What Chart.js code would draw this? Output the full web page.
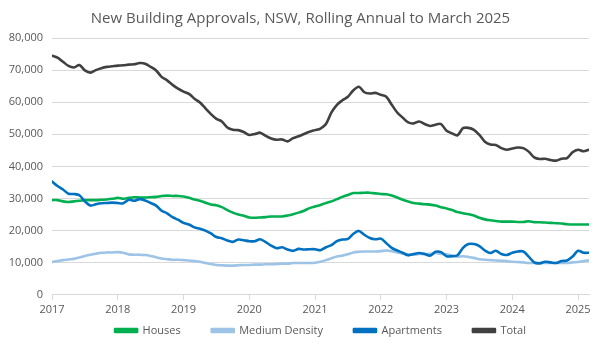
<!DOCTYPE html>
<html>
<head>
<meta charset="utf-8">
<script src="https://cdn.jsdelivr.net/npm/chart.js@4.4.1/dist/chart.umd.min.js"></script>
<style>
  html, body { margin: 0; padding: 0; background: #fff; }
  #wrap { width: 601px; height: 348px; }
</style>
</head>
<body>
<div id="wrap"><canvas id="myChart" width="601" height="348"></canvas></div>
<script>
// rolling annual totals, one value per month from Jan 2017 to Mar 2025
const firstYear = 2017;
const yearLabels = ["2017", "2018", "2019", "2020", "2021", "2022", "2023", "2024", "2025"];

const houses = [
  29500, 29500, 29100, 28900, 29100, 29300, 29500, 29500, 29500, 29600, 29700, 29900,
  30200, 29900, 30200, 30400, 30300, 30300, 30400, 30500, 30800, 30900, 30800, 30800,
  30600, 30200, 29700, 29300, 28700, 28100, 27900, 27300, 26400, 25600, 25000, 24600,
  24100, 24000, 24100, 24200, 24400, 24400, 24400, 24700, 25100, 25600, 26200, 27000,
  27500, 28000, 28600, 29100, 29800, 30500, 31100, 31700, 31700, 31800, 31800, 31600,
  31400, 31300, 30900, 30300, 29600, 29100, 28600, 28400, 28200, 28100, 27800, 27300,
  26900, 26400, 25800, 25400, 25100, 24700, 24000, 23500, 23200, 23000, 22800, 22800,
  22800, 22700, 22700, 22900, 22600, 22600, 22500, 22400, 22300, 22200, 22000, 21900,
  21900, 21900, 21900
];

const mediumDensity = [
  10200, 10500, 10800, 11000, 11200, 11600, 12100, 12500, 12800, 13100, 13200, 13200,
  13300, 13100, 12600, 12500, 12500, 12400, 12100, 11700, 11300, 11100, 10900, 10900,
  10800, 10700, 10500, 10300, 9900, 9600, 9300, 9200, 9100, 9100, 9200, 9300,
  9300, 9400, 9400, 9500, 9500, 9600, 9700, 9700, 9900, 9900, 9900, 9900,
  10000, 10300, 10800, 11400, 11900, 12200, 12600, 13200, 13400, 13500, 13500, 13500,
  13600, 13800, 13600, 13200, 12800, 12600, 12500, 12700, 12700, 12800, 13000, 12700,
  12600, 12200, 11900, 12000, 11800, 11500, 11100, 10900, 10800, 10700, 10600, 10500,
  10300, 10200, 10100, 9900, 9900, 9900, 9900, 9900, 9900, 9900, 9900, 10100,
  10200, 10500, 10700
];

const apartments = [
  35300, 33900, 32800, 31500, 31400, 31000, 29100, 27800, 28200, 28500, 28600, 28700,
  28600, 28500, 29600, 29300, 29800, 29400, 28600, 27800, 26200, 25400, 24200, 23400,
  22400, 21900, 21000, 20600, 20000, 19100, 18000, 17600, 16900, 16500, 17200, 17000,
  16700, 16700, 17300, 16400, 15300, 14500, 14800, 14100, 13700, 14300, 14100, 14200,
  14200, 13900, 14800, 15500, 16700, 17200, 17400, 19000, 19900, 18700, 17700, 17300,
  17500, 16100, 14600, 13800, 13100, 12300, 12700, 13000, 12700, 12200, 13400, 13300,
  12000, 12000, 12300, 14600, 15800, 15800, 15200, 13800, 13000, 13700, 12700, 12400,
  13100, 13500, 13500, 11900, 10100, 9800, 10300, 10100, 9900, 10500, 10700, 11900,
  13700, 13100, 13100
];

const total = [
  74500, 73900, 72600, 71300, 70800, 71600, 69900, 69200, 70000, 70600, 71000, 71200,
  71400, 71500, 71700, 71800, 72200, 72000, 71000, 69900, 67900, 66800, 65400, 64200,
  63300, 62600, 61100, 59900, 58100, 56300, 54800, 54000, 52100, 51400, 51300, 50700,
  49800, 50100, 50500, 49500, 48700, 48300, 48400, 47800, 48800, 49400, 50100, 50800,
  51300, 51800, 53200, 56800, 59200, 60600, 61700, 63700, 64800, 63100, 62700, 62900,
  62300, 61700, 59200, 56800, 55200, 53700, 53400, 54000, 53200, 52600, 53000, 53200,
  51100, 50300, 49700, 51900, 52000, 51400, 49800, 47700, 46800, 46700, 45700, 45200,
  45600, 45900, 45700, 44600, 42800, 42300, 42400, 42000, 41800, 42400, 42600, 44400,
  45200, 44700, 45200
];

const months = houses.map((_, i) => i);

function points(values) {
  return values.map((v, i) => ({ x: months[i], y: v }));
}

function series(label, values, color, order) {
  return {
    label: label,
    data: points(values),
    borderColor: color,
    backgroundColor: color,
    borderWidth: 2.6,
    pointRadius: 0,
    tension: 0.3,
    borderCapStyle: "round",
    borderJoinStyle: "round",
    order: order,
  };
}

// legend items need wide horizontal spacing but only a small gap above them,
// so pull the legend box up by part of its label padding
const legendLift = {
  id: "legendLift",
  beforeLayout(chart, args, opts) {
    const legend = chart.legend;
    if (!legend || legend._lifted) return;
    legend._lifted = true;
    const fit = legend.fit;
    const draw = legend.draw;
    legend.fit = function () {
      fit.call(this);
      this.height -= opts.shift;
    };
    legend.draw = function () {
      this.top -= opts.shift;
      draw.call(this);
      this.top += opts.shift;
    };
  },
};

const textColor = "#595959";
const gridColor = "#d9d9d9";
Chart.defaults.font.family = "'Open Sans', sans-serif";
Chart.defaults.color = textColor;

let ctx = document.getElementById("myChart").getContext("2d");
let myChart = new Chart(ctx, {
  type: "line",
  data: {
    datasets: [
      series("Houses", houses, "#00b050", 4),
      series("Medium Density", mediumDensity, "#9dc3e6", 3),
      series("Apartments", apartments, "#0070c0", 2),
      series("Total", total, "#404040", 1),
    ],
  },
  plugins: [legendLift],
  options: {
    responsive: false,
    animation: false,
    layout: { padding: { left: 0, right: 0, top: 10, bottom: 2 } },
    plugins: {
      legendLift: { shift: 25 },
      title: {
        display: true,
        text: "New Building Approvals, NSW, Rolling Annual to March 2025",
        color: textColor,
        font: { size: 15, weight: "normal" },
        padding: { top: 0, bottom: 10 },
      },
      legend: {
        position: "bottom",
        fullSize: false,
        labels: {
          boxWidth: 22,
          boxHeight: 3,
          padding: 31,
          color: textColor,
          font: { size: 11 },
          sort: (a, b) => a.datasetIndex - b.datasetIndex,
        },
      },
      tooltip: { enabled: false },
    },
    scales: {
      x: {
        type: "linear",
        min: 0,
        max: months[months.length - 1],
        border: { color: gridColor },
        grid: { drawOnChartArea: false, color: gridColor, tickLength: 5 },
        ticks: {
          stepSize: 12,
          includeBounds: false,
          maxRotation: 0,
          padding: 3,
          font: { size: 11 },
          callback: (v) => yearLabels[(v / 12) | 0] || String(firstYear + v / 12),
        },
        afterFit: (scale) => {
          // room on the right of the plot, keeping the title centred on the page
          scale.paddingRight = 12;
        },
      },
      y: {
        min: 0,
        max: 80000,
        border: { display: false },
        grid: { color: gridColor, drawTicks: false },
        ticks: {
          stepSize: 10000,
          padding: 9,
          font: { size: 11 },
          callback: (v) => v.toLocaleString("en-US"),
        },
        afterFit: (scale) => {
          scale.width = 52;
        },
      },
    },
  },
});
</script>
</body>
</html>
